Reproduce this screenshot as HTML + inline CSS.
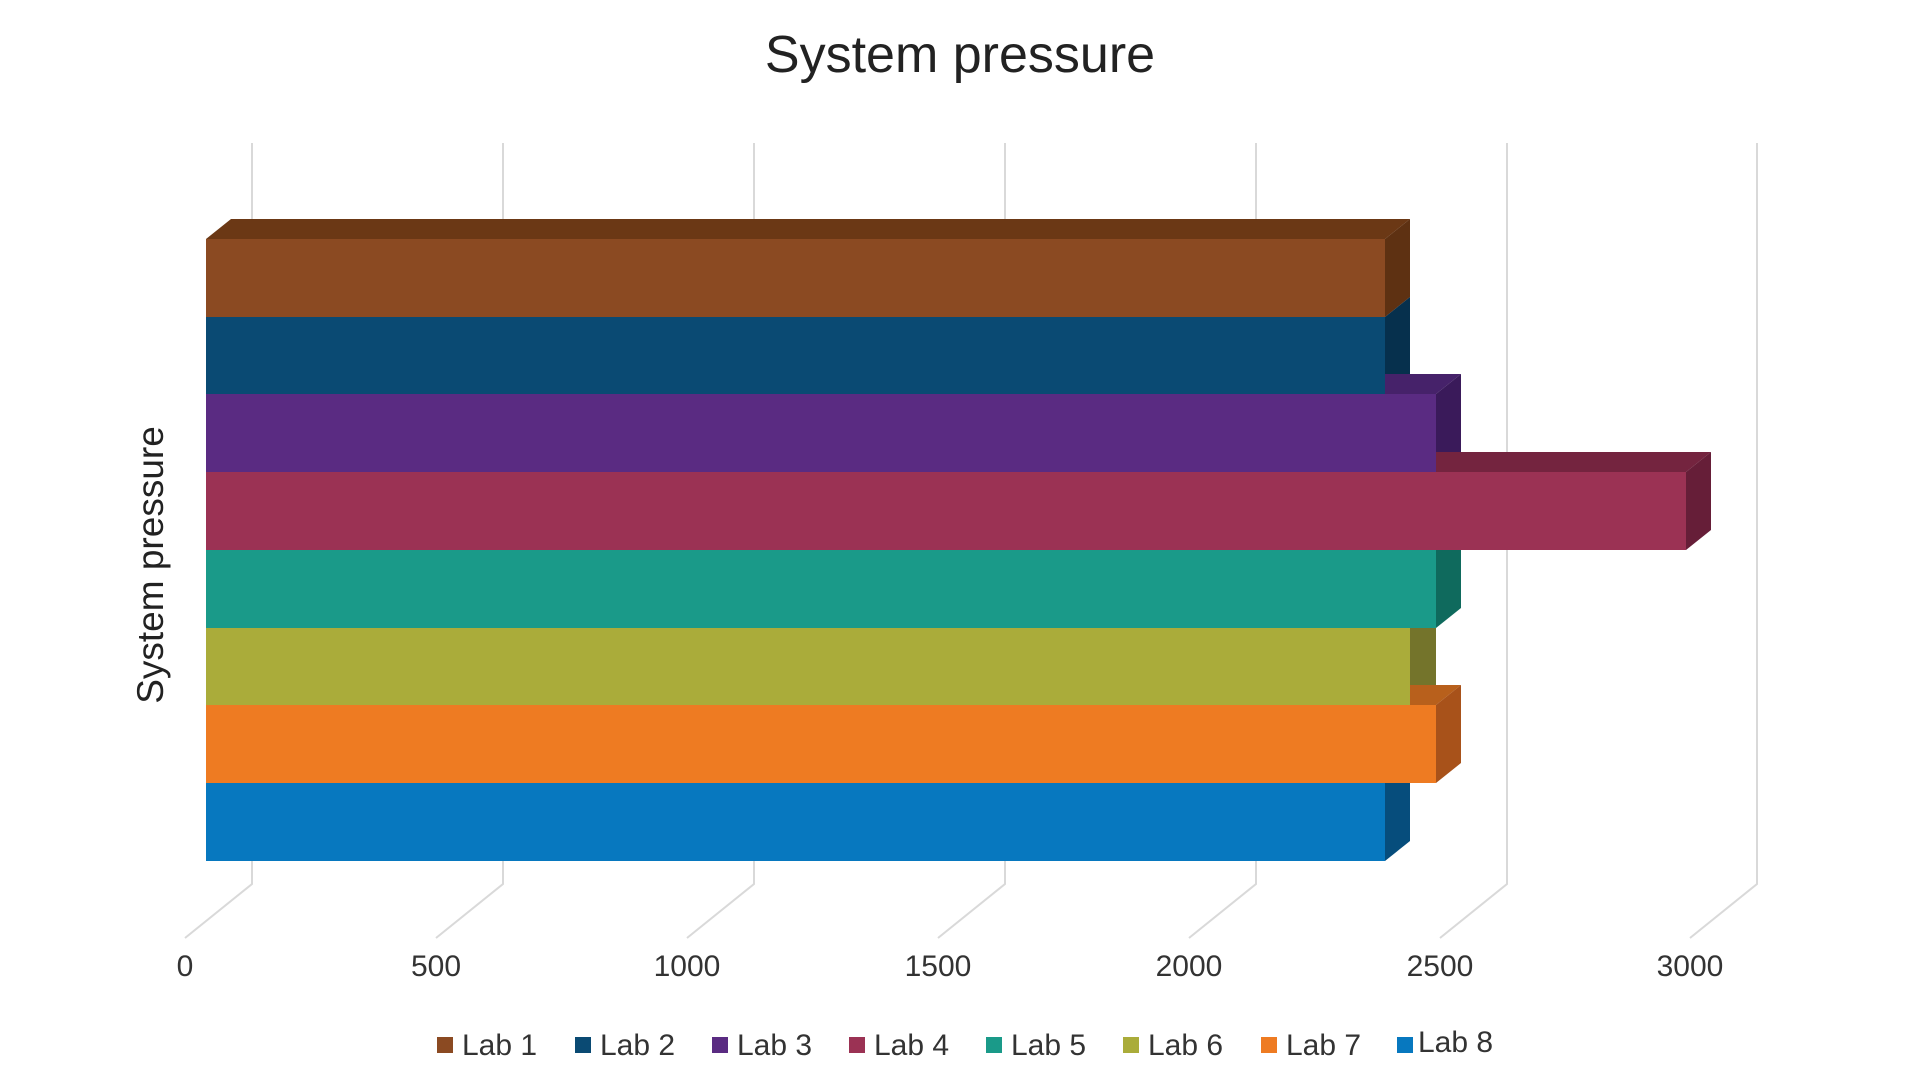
<!DOCTYPE html>
<html><head><meta charset="utf-8"><style>
html,body{margin:0;padding:0;background:#fff;width:1920px;height:1080px;overflow:hidden}
svg{display:block;font-family:"Liberation Sans",Arial,sans-serif}
</style></head><body>
<svg width="1920" height="1080" viewBox="0 0 1920 1080">
<text x="960" y="72" font-size="52" text-anchor="middle" fill="#222">System pressure</text>
<g stroke="#d9d9d9" stroke-width="2" fill="none">
<polyline points="252,143 252,884 185,938"/>
<polyline points="503,143 503,884 436,938"/>
<polyline points="754,143 754,884 687,938"/>
<polyline points="1005,143 1005,884 938,938"/>
<polyline points="1256,143 1256,884 1189,938"/>
<polyline points="1507,143 1507,884 1440,938"/>
<polyline points="1757,143 1757,884 1690,938"/>
</g>
<g font-size="30" fill="#333" text-anchor="middle">
<text x="185" y="976">0</text><text x="436" y="976">500</text><text x="687" y="976">1000</text>
<text x="938" y="976">1500</text><text x="1189" y="976">2000</text><text x="1440" y="976">2500</text><text x="1690" y="976">3000</text>
</g>
<text transform="translate(163,565) rotate(-90)" font-size="37" text-anchor="middle" fill="#222">System pressure</text>
<!-- tops and sides -->
<g>
<polygon points="206,239 231,219 1410,219 1385,239" fill="#6b3815"/>
<polygon points="1385,239 1410,219 1410,297 1385,317" fill="#5e3112"/>
<polygon points="1385,317 1410,297 1410,374 1385,394" fill="#06304d"/>
<polygon points="206,394 231,374 1461,374 1436,394" fill="#46226a"/>
<polygon points="1436,394 1461,374 1461,452 1436,472" fill="#3a1a5a"/>
<polygon points="206,472 231,452 1711,452 1686,472" fill="#74243f"/>
<polygon points="1686,472 1711,452 1711,530 1686,550" fill="#661e38"/>
<polygon points="1436,550 1461,530 1461,608 1436,628" fill="#0f6a5d"/>
<polygon points="1410,628 1436,628 1436,705 1410,705" fill="#74742b"/>
<polygon points="206,705 231,685 1461,685 1436,705" fill="#b8601c"/>
<polygon points="1436,705 1461,685 1461,763 1436,783" fill="#a8521a"/>
<polygon points="1385,783 1410,763 1410,841 1385,861" fill="#064d7c"/>
</g>
<!-- fronts -->
<rect x="206" y="239" width="1179" height="78" fill="#8b4a22"/>
<rect x="206" y="317" width="1179" height="77" fill="#0a4a73"/>
<rect x="206" y="394" width="1230" height="78" fill="#5a2b82"/>
<rect x="206" y="472" width="1480" height="78" fill="#9b3254"/>
<rect x="206" y="550" width="1230" height="78" fill="#1a9a89"/>
<rect x="206" y="628" width="1204" height="77" fill="#aaac3a"/>
<rect x="206" y="705" width="1230" height="78" fill="#ee7b22"/>
<rect x="206" y="783" width="1179" height="78" fill="#0778bf"/>
<!-- legend -->
<g font-size="30" fill="#333">
<rect x="437" y="1037" width="16" height="16" fill="#8b4a22"/><text x="462" y="1055">Lab 1</text>
<rect x="575" y="1037" width="16" height="16" fill="#0a4a73"/><text x="600" y="1055">Lab 2</text>
<rect x="712" y="1037" width="16" height="16" fill="#5a2b82"/><text x="737" y="1055">Lab 3</text>
<rect x="849" y="1037" width="16" height="16" fill="#9b3254"/><text x="874" y="1055">Lab 4</text>
<rect x="986" y="1037" width="16" height="16" fill="#1a9a89"/><text x="1011" y="1055">Lab 5</text>
<rect x="1123" y="1037" width="16" height="16" fill="#aaac3a"/><text x="1148" y="1055">Lab 6</text>
<rect x="1261" y="1037" width="16" height="16" fill="#ee7b22"/><text x="1286" y="1055">Lab 7</text>
<rect x="1397" y="1037" width="16" height="16" fill="#0778bf"/><text x="1418" y="1052">Lab 8</text>
</g>
</svg>
</body></html>
